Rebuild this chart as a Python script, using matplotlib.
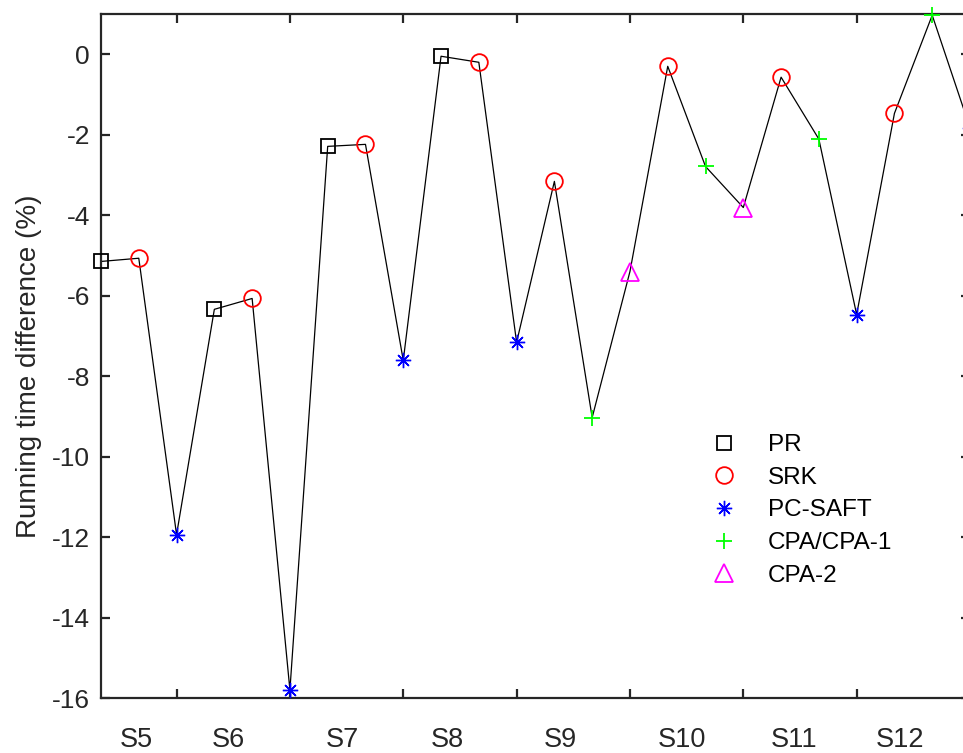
import matplotlib
matplotlib.use("Agg")
import matplotlib.pyplot as plt

plt.rcParams['font.family'] = ['Liberation Sans', 'DejaVu Sans']
plt.rcParams['axes.unicode_minus'] = False

# run order: three models per system, systems S5..S12
run_index = list(range(1, 25))
run_model = ['PR', 'SRK', 'PC-SAFT',
             'PR', 'SRK', 'PC-SAFT',
             'PR', 'SRK', 'PC-SAFT',
             'PR', 'SRK', 'PC-SAFT',
             'SRK', 'CPA/CPA-1', 'CPA-2',
             'SRK', 'CPA/CPA-1', 'CPA-2',
             'SRK', 'CPA/CPA-1', 'PC-SAFT',
             'SRK', 'CPA/CPA-1', 'PC-SAFT']
time_diff = [-5.15, -5.07, -11.94,
             -6.34, -6.07, -15.80,
             -2.29, -2.24, -7.61,
             -0.05, -0.20, -7.16,
             -3.16, -9.03, -5.40,
             -0.30, -2.79, -3.81,
             -0.57, -2.11, -6.47,
             -1.47, 0.97, -1.83]

systems = ['S5', 'S6', 'S7', 'S8', 'S9', 'S10', 'S11', 'S12']
group_label_x = [1.93, 4.36, 7.38, 10.16, 13.15, 16.38, 19.34, 22.15]

models = ['PR', 'SRK', 'PC-SAFT', 'CPA/CPA-1', 'CPA-2']
marker_style = {
    'PR':        dict(marker='s', color='black', ms=9.5, mew=1.3),
    'SRK':       dict(marker='o', color='#ff0000', ms=12, mew=1.3),
    'PC-SAFT':   dict(marker=(8, 2, 0), color='#0000ff', ms=11, mew=1.0),
    'CPA/CPA-1': dict(marker='+', color='#00ff00', ms=12, mew=1.3),
    'CPA-2':     dict(marker='^', color='#ff00ff', ms=13, mew=1.3),
}

axis_grey = '#262626'

fig = plt.figure(figsize=(9.63, 7.53), dpi=100)
ax = fig.add_axes([101 / 963, 55 / 753, 869 / 963, 684 / 753])

ax.plot(run_index, time_diff, color='black', lw=0.9, zorder=2)

handles = []
for m in models:
    xs = [x for x, k in zip(run_index, run_model) if k == m]
    ys = [y for y, k in zip(time_diff, run_model) if k == m]
    st = marker_style[m]
    h, = ax.plot(xs, ys, ls='none', marker=st['marker'], ms=st['ms'],
                 mfc='none', mec=st['color'], mew=st['mew'], label=m,
                 zorder=3, clip_on=False)
    handles.append(h)

ax.set_xlim(1, 24)
ax.set_ylim(-16, 1)
ax.set_xticks(range(3, 25, 3))
ax.set_xticklabels([])
ax.set_yticks(range(-16, 1, 2))

for s in ax.spines.values():
    s.set_linewidth(1.6)
    s.set_color(axis_grey)
ax.tick_params(direction='in', length=6.5, width=1.6, color=axis_grey,
               labelcolor=axis_grey, labelsize=19, pad=8,
               top=True, right=True)

for x, s in zip(group_label_x, systems):
    ax.text(x, -0.0614, s, transform=ax.get_xaxis_transform(),
            ha='center', va='center', fontsize=19.5, color=axis_grey)

ax.set_ylabel('Running time difference (%)', fontsize=20, color=axis_grey)
ax.yaxis.set_label_coords(-0.068, 0.485)

leg = ax.legend(handles=handles, loc='upper left',
                bbox_to_anchor=(713 / 963, 1 - 434 / 753),
                bbox_transform=fig.transFigure, frameon=False,
                fontsize=17.5, handlelength=0.9, handletextpad=1.37,
                labelspacing=0.44, borderpad=0, borderaxespad=0)
for t in leg.get_texts():
    t.set_color('black')

fig.savefig('out.png', dpi=100)
